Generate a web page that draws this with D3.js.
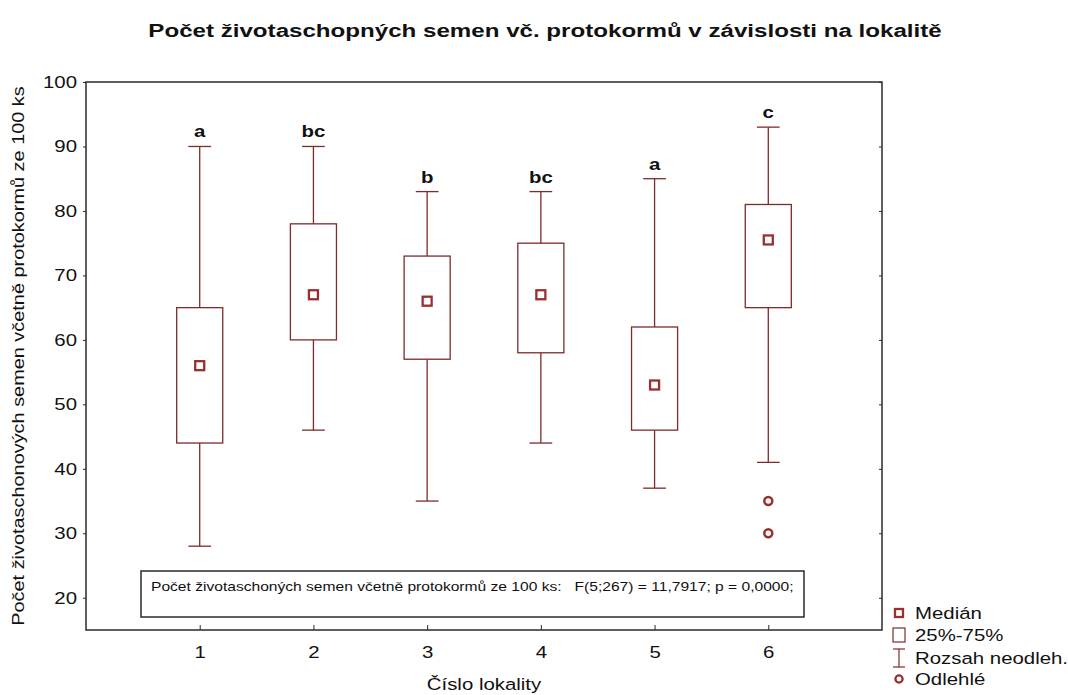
<!DOCTYPE html>
<html>
<head>
<meta charset="utf-8">
<script src="https://cdn.jsdelivr.net/npm/d3@7"></script>
<style>
  body { margin: 0; background: #fff; }
  svg { display: block; font-family: "Liberation Sans", Arial, sans-serif; }
</style>
</head>
<body>
<svg id="chart" width="1068" height="695"></svg>
<script>
// Box plot data
const groups = [1, 2, 3, 4, 5, 6];
const whiskerLow = [28, 46, 35, 44, 37, 41];
const q1 = [44, 60, 57, 58, 46, 65];
const medians = [56, 67, 66, 67, 53, 75.5];
const q3 = [65, 78, 73, 75, 62, 81];
const whiskerHigh = [90, 90, 83, 83, 85, 93];
const letters = ["a", "bc", "b", "bc", "a", "c"];
const outliers = [[6, 35], [6, 30]];
const yTicks = [20, 30, 40, 50, 60, 70, 80, 90, 100];

const title = "Počet životaschopných semen vč. protokormů v závislosti na lokalitě";
const yTitle = "Počet životaschonových semen včetně protokormů ze 100 ks";
const xTitle = "Číslo lokality";
const statsText = "Počet životaschoných semen včetně protokormů ze 100 ks:   F(5;267) = 11,7917; p = 0,0000;";
const legendLabels = ["Medián", "25%-75%", "Rozsah neodleh.", "Odlehlé"];

const lineColor = "#7d2b2b";
const markColor = "#99302f";
const frameColor = "#2a2a2a";
const SX = 1.2; // the original text is drawn a bit wide

const svg = d3.select("#chart");

const x = d3.scaleLinear().domain([0, 7]).range([86, 882]);
const y = d3.scaleLinear().domain([15, 100]).range([630, 82]);

function txt(px, py, str, size, weight, anchor, sx) {
    return svg.append("text")
        .attr("transform", `translate(${px},${py}) scale(${sx || SX},1)`)
        .attr("text-anchor", anchor || "start")
        .style("font-size", size + "px")
        .style("font-weight", weight || "normal")
        .style("white-space", "pre")
        .attr("fill", "#111")
        .text(str);
}

// title
txt(545, 37, title, 19, "bold", "middle", 1.27);

// y axis (outer ticks)
const yAxis = svg.append("g")
    .attr("transform", `translate(${x(0)},0)`)
    .call(d3.axisLeft(y).tickValues(yTicks).tickSizeInner(3).tickSizeOuter(0).tickPadding(4.5));
yAxis.select(".domain").remove();
yAxis.selectAll("line").attr("stroke", frameColor);
yAxis.selectAll("text")
    .attr("transform", `scale(${SX},1)`)
    .attr("fill", "#111")
    .style("font-size", "17px")
    .style("font-family", "Liberation Sans, Arial, sans-serif");

// right side inward ticks
const yRight = svg.append("g")
    .attr("transform", `translate(${x(7)},0)`)
    .call(d3.axisRight(y).tickValues(yTicks).tickSizeInner(-3).tickSizeOuter(0).tickFormat(""));
yRight.select(".domain").remove();
yRight.selectAll("line").attr("stroke", frameColor);

// x axis (inward ticks)
const xAxis = svg.append("g")
    .attr("transform", `translate(0,${y(15)})`)
    .call(d3.axisBottom(x).tickValues(groups).tickFormat(d3.format("d"))
        .tickSizeInner(-5).tickSizeOuter(0).tickPadding(16));
xAxis.select(".domain").remove();
xAxis.selectAll("line").attr("stroke", frameColor);
xAxis.selectAll("text")
    .attr("transform", `scale(${SX},1)`)
    .attr("fill", "#111")
    .style("font-size", "17px")
    .style("font-family", "Liberation Sans, Arial, sans-serif");

// frame
svg.append("rect")
    .attr("x", x(0)).attr("y", y(100))
    .attr("width", x(7) - x(0)).attr("height", y(15) - y(100))
    .attr("fill", "none")
    .attr("stroke", frameColor)
    .attr("stroke-width", 1.5);

// axis titles
txt(484, 690, xTitle, 17, "normal", "middle");
svg.append("text")
    .attr("transform", `translate(24,${(y(15) + y(100)) / 2}) rotate(-90) scale(1.17,1)`)
    .attr("text-anchor", "middle")
    .style("font-size", "17px")
    .attr("fill", "#111")
    .text(yTitle);

// boxes
const boxW = 0.405, capW = 0.2;
const boxes = svg.append("g");
groups.forEach((g, i) => {
    const b = boxes.append("g")
        .attr("stroke", lineColor)
        .attr("stroke-width", 1.3)
        .attr("fill", "none");
    // whiskers
    b.append("line").attr("x1", x(g)).attr("x2", x(g)).attr("y1", y(q3[i])).attr("y2", y(whiskerHigh[i]));
    b.append("line").attr("x1", x(g)).attr("x2", x(g)).attr("y1", y(q1[i])).attr("y2", y(whiskerLow[i]));
    b.append("line").attr("x1", x(g - capW / 2)).attr("x2", x(g + capW / 2)).attr("y1", y(whiskerHigh[i])).attr("y2", y(whiskerHigh[i]));
    b.append("line").attr("x1", x(g - capW / 2)).attr("x2", x(g + capW / 2)).attr("y1", y(whiskerLow[i])).attr("y2", y(whiskerLow[i]));
    // box
    b.append("rect")
        .attr("x", x(g - boxW / 2)).attr("y", y(q3[i]))
        .attr("width", x(g + boxW / 2) - x(g - boxW / 2))
        .attr("height", y(q1[i]) - y(q3[i]))
        .attr("fill", "#fff");
    // median
    svg.append("rect")
        .attr("x", x(g) - 4.5).attr("y", y(medians[i]) - 4.5)
        .attr("width", 9).attr("height", 9)
        .attr("fill", "#fff")
        .attr("stroke", markColor)
        .attr("stroke-width", 2.3);
    // letter
    txt(x(g), y(whiskerHigh[i]) - 9, letters[i], 17, "bold", "middle");
});

// outliers
svg.selectAll(".outlier")
    .data(outliers)
    .enter().append("circle")
    .attr("class", "outlier")
    .attr("cx", d => x(d[0]))
    .attr("cy", d => y(d[1]))
    .attr("r", 4)
    .attr("fill", "#fff")
    .attr("stroke", markColor)
    .attr("stroke-width", 2.5);

// stats box
svg.append("rect")
    .attr("x", 141).attr("y", 571)
    .attr("width", 663).attr("height", 46)
    .attr("fill", "#fff")
    .attr("stroke", frameColor)
    .attr("stroke-width", 1.5);
txt(151, 591, statsText, 13, "normal", "start");

// legend
const lx = 899, ly = [613, 635, 658, 679];
svg.append("rect").attr("x", lx - 4).attr("y", ly[0] - 4).attr("width", 8).attr("height", 8)
    .attr("fill", "#fff").attr("stroke", markColor).attr("stroke-width", 2.3);
svg.append("rect").attr("x", lx - 6).attr("y", ly[1] - 7).attr("width", 12).attr("height", 14)
    .attr("fill", "#fff").attr("stroke", lineColor).attr("stroke-width", 1.2);
const wl = svg.append("g").attr("stroke", lineColor).attr("stroke-width", 1.2);
wl.append("line").attr("x1", lx - 6).attr("x2", lx + 6).attr("y1", ly[2] - 9).attr("y2", ly[2] - 9);
wl.append("line").attr("x1", lx - 6).attr("x2", lx + 6).attr("y1", ly[2] + 9).attr("y2", ly[2] + 9);
wl.append("line").attr("x1", lx).attr("x2", lx).attr("y1", ly[2] - 9).attr("y2", ly[2] + 9);
svg.append("circle").attr("cx", lx).attr("cy", ly[3]).attr("r", 3.6)
    .attr("fill", "#fff").attr("stroke", markColor).attr("stroke-width", 2.3);
legendLabels.forEach((l, i) => {
    txt(915, ly[i] + 6, l, 17, "normal", "start");
});
</script>
</body>
</html>
